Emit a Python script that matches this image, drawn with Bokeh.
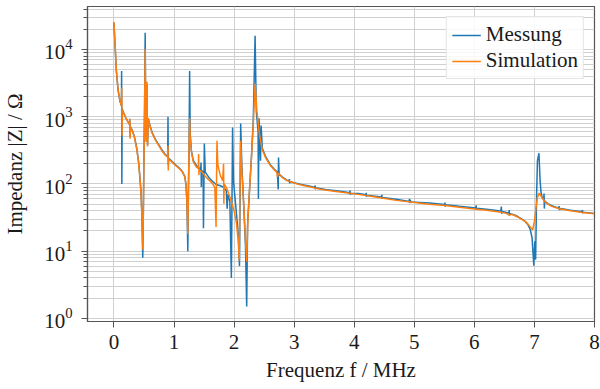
from bokeh.plotting import figure
from bokeh.models import FixedTicker, Legend, LegendItem, Range1d
from bokeh.embed import file_html
from bokeh.resources import INLINE

# ---- data ----
f_sim = [0.0, 0.02, 0.04, 0.07, 0.10, 0.125, 0.13, 0.135, 0.14, 0.17, 0.20, 0.235, 0.26, 0.265, 0.27, 0.275,
         0.30, 0.34, 0.38, 0.41, 0.43, 0.45, 0.465, 0.48, 0.49, 0.50, 0.51, 0.52, 0.53, 0.54, 0.55, 0.56, 0.57,
         0.60, 0.64, 0.69, 0.74, 0.80, 0.86, 0.895, 0.90, 0.905, 0.91, 0.96, 1.02, 1.08, 1.14, 1.18, 1.20,
         1.215, 1.23, 1.24, 1.25, 1.26, 1.27, 1.29, 1.32, 1.37, 1.405, 1.41, 1.415, 1.42, 1.47, 1.52, 1.58,
         1.64, 1.68, 1.70, 1.715, 1.73, 1.77, 1.81, 1.825, 1.83, 1.835, 1.88, 1.94, 2.00, 2.04, 2.07, 2.085,
         2.095, 2.11, 2.13, 2.16, 2.19, 2.21, 2.23, 2.26, 2.29, 2.32, 2.35, 2.38, 2.42, 2.47, 2.53, 2.60,
         2.66, 2.71, 2.725, 2.735, 2.80, 2.88, 2.97, 3.10, 3.25, 3.40, 3.52, 3.66, 3.80, 3.95, 4.07, 4.25,
         4.46, 4.70, 5.01, 5.25, 5.51, 5.75, 6.00, 6.20, 6.45, 6.53, 6.58, 6.62, 6.67, 6.73, 6.78, 6.84,
         6.89, 6.93, 6.97, 7.00, 7.02, 7.05, 7.08, 7.12, 7.17, 7.22, 7.30, 7.44, 7.60, 7.77, 8.00]
z_sim = [25700, 11400, 4900, 2500, 1750, 1450, 2700, 520, 1250, 1100, 950, 840, 760, 940, 470, 700,
         640, 500, 330, 210, 130, 75, 35, 10.6, 40, 250, 1200, 10200, 900, 420, 3300, 360, 950,
         720, 560, 450, 380, 310, 265, 250, 370, 158, 235, 215, 190, 172, 150, 128, 95,
         55, 18, 80, 300, 950, 500, 300, 215, 180, 170, 280, 135, 160, 150, 130, 115,
         102, 88, 23, 440, 190, 135, 112, 200, 51, 100, 85, 60, 40, 26, 14, 7.3,
         60, 440, 150, 50, 15, 7, 30, 90, 250, 800, 3100, 1200, 560, 320, 240, 190,
         165, 150, 128, 145, 125, 112, 106, 97, 91, 85, 81, 78, 75, 72, 70, 66,
         62, 57, 53, 50, 48, 45, 42.5, 40.5, 38, 36.5, 34.5, 35.5, 34, 32, 30, 28,
         25.5, 23, 20.7, 28, 40, 63, 73, 64, 55, 50, 46, 42.5, 40, 38, 36]

f_mess = [0.0, 0.02, 0.04, 0.07, 0.10, 0.125, 0.128, 0.132, 0.137, 0.17, 0.20, 0.235, 0.26, 0.265, 0.27,
          0.275, 0.30, 0.34, 0.38, 0.41, 0.43, 0.45, 0.465, 0.48, 0.49, 0.50, 0.51, 0.52, 0.53, 0.54, 0.55,
          0.56, 0.57, 0.60, 0.64, 0.69, 0.74, 0.80, 0.86, 0.895, 0.90, 0.905, 0.91, 0.96, 1.02, 1.08, 1.14,
          1.18, 1.20, 1.215, 1.23, 1.24, 1.25, 1.26, 1.27, 1.29, 1.32, 1.37, 1.41, 1.445, 1.45, 1.455, 1.46,
          1.485, 1.49, 1.505, 1.52, 1.58, 1.64, 1.70, 1.76, 1.82, 1.87, 1.885, 1.895, 1.93, 1.955, 1.975,
          1.99, 2.03, 2.07, 2.09, 2.11, 2.13, 2.16, 2.19, 2.21, 2.225, 2.26, 2.29, 2.32, 2.35, 2.37, 2.40,
          2.405, 2.415, 2.43, 2.44, 2.45, 2.47, 2.53, 2.60, 2.66, 2.72, 2.735, 2.74, 2.75, 2.80, 2.88,
          2.915, 2.92, 2.925, 2.93, 3.10, 3.25, 3.345, 3.35, 3.355, 3.36, 3.52, 3.66, 3.80, 3.925, 3.93,
          3.935, 3.94, 4.07, 4.195, 4.20, 4.205, 4.21, 4.455, 4.46, 4.465, 4.47, 4.70, 4.915, 4.92, 4.925,
          4.935, 4.94, 5.25, 5.505, 5.51, 5.515, 5.52, 5.75, 6.025, 6.03, 6.035, 6.04, 6.20, 6.44, 6.45,
          6.455, 6.46, 6.575, 6.58, 6.585, 6.60, 6.67, 6.73, 6.78, 6.84, 6.89, 6.93, 6.96, 6.975, 6.99,
          7.005, 7.02, 7.035, 7.05, 7.075, 7.095, 7.11, 7.13, 7.155, 7.16, 7.165, 7.17, 7.22, 7.30, 7.405,
          7.41, 7.415, 7.44, 7.60, 7.795, 7.80, 7.805, 7.81, 8.00]
z_mess = [25000, 11000, 4800, 2450, 1700, 1450, 4800, 100, 1300, 1100, 950, 840, 760, 900, 500,
          700, 650, 510, 340, 215, 135, 78, 36, 8.0, 40, 260, 1300, 17800, 900, 420, 3000,
          380, 950, 740, 570, 460, 390, 320, 270, 255, 1000, 190, 240, 220, 195, 176, 153,
          130, 97, 56, 10, 80, 300, 4800, 550, 310, 225, 190, 175, 165, 208, 90, 160,
          150, 22, 400, 150, 125, 110, 98, 95, 90, 80, 43, 70, 55, 4, 690,
          110, 45, 18, 6, 790, 180, 50, 12, 1.5, 25, 90, 260, 900, 16000, 1200, 600,
          60, 950, 450, 222, 740, 340, 250, 195, 170, 150, 83, 248, 140, 128, 114,
          110, 118, 102, 108, 99, 93, 89, 95, 83, 88, 83, 80, 77, 74, 80,
          69, 73, 72, 69, 74, 64, 68, 64, 69, 60, 63, 59, 55, 60, 52,
          58, 54, 52, 49.5, 53, 46, 49, 46.5, 44, 48, 41, 43.5, 42, 39.5, 46,
          36, 39, 37, 41, 34, 36, 34.5, 32.5, 30.5, 28, 25, 21, 16, 10, 6.1,
          14, 7.5, 60, 220, 287, 110, 75, 62, 58, 72, 43, 56, 51, 47, 43.5,
          47, 41, 43, 40.5, 38.5, 41, 36.5, 38, 36.5]

x_ticks = [0, 1, 2, 3, 4, 5, 6, 7, 8]
y_ticks = [1, 10, 100, 1000, 10000]
y_minor = [m * d for d in [1, 10, 100, 1000, 10000] for m in range(2, 10)]

FONT = "Liberation Serif"
GRID = "#d0d0d0"
FRAME = "#555555"
TEXT = "#1a1a1a"

p = figure(width=600, height=389, y_axis_type="log", output_backend="svg", toolbar_location=None,
           x_range=Range1d(-0.44, 8.0), y_range=Range1d(0.9, 43600),
           min_border_left=84, min_border_right=6, min_border_top=6, min_border_bottom=68)

p.outline_line_color = FRAME
p.outline_line_width = 1.2

r_mess = p.line(f_mess, z_mess, line_color="#1f77b4", line_width=1.5)
r_sim = p.line(f_sim, z_sim, line_color="#ff7f0e", line_width=1.5)

# axes
p.xaxis.ticker = FixedTicker(ticks=x_ticks)
p.yaxis.ticker = FixedTicker(ticks=y_ticks, minor_ticks=y_minor)
for ax in (p.xaxis[0], p.yaxis[0]):
    ax.axis_line_color = FRAME
    ax.axis_line_width = 1.2
    ax.major_tick_line_color = FRAME
    ax.minor_tick_line_color = FRAME
    ax.major_label_text_font = FONT
    ax.major_label_text_font_size = "21px"
    ax.major_label_text_color = TEXT
    ax.axis_label_text_font = FONT
    ax.axis_label_text_font_size = "21px"
    ax.axis_label_text_font_style = "normal"
    ax.axis_label_text_color = TEXT

p.xaxis.axis_label = "Frequenz f / MHz"
p.xaxis.major_tick_out = 6
p.xaxis.major_tick_in = 0
p.xaxis.minor_tick_out = 0
p.xaxis.minor_tick_in = 0
p.xaxis.major_label_standoff = 7
p.xaxis.axis_label_standoff = 6

p.yaxis.axis_label = "Impedanz |Z| / Ω"
p.yaxis.major_tick_out = 6
p.yaxis.major_tick_in = 0
p.yaxis.minor_tick_out = 4
p.yaxis.minor_tick_in = 0
p.yaxis.major_label_standoff = 9
p.yaxis.axis_label_standoff = 14

# grids
p.xgrid.grid_line_color = GRID
p.xgrid.grid_line_width = 1
p.ygrid.grid_line_color = GRID
p.ygrid.grid_line_width = 1
p.ygrid.minor_grid_line_color = GRID
p.ygrid.minor_grid_line_width = 1

legend = Legend(items=[LegendItem(label="Messung", renderers=[r_mess]),
                       LegendItem(label="Simulation", renderers=[r_sim])],
                location="top_right")
legend.label_text_font = FONT
legend.label_text_font_size = "21px"
legend.label_text_color = TEXT
legend.label_height = 20
legend.glyph_width = 29
legend.glyph_height = 20
legend.label_standoff = 5
legend.spacing = 1
legend.padding = 5
legend.margin = 10
legend.border_line_color = "#cccccc"
legend.background_fill_alpha = 0.85
p.add_layout(legend)

open("out.html", "w").write(file_html(p, INLINE))
